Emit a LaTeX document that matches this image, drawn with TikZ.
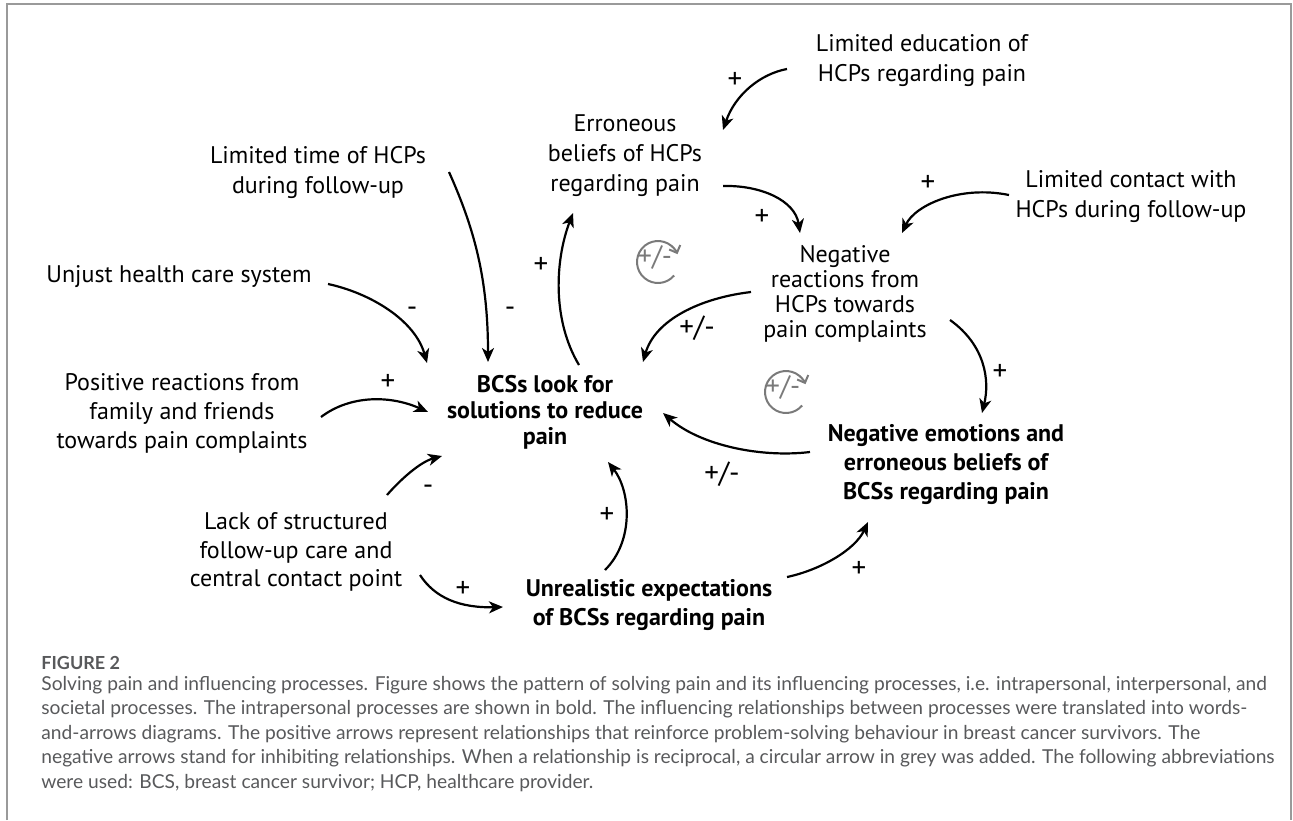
\documentclass[tikz,border=0pt]{standalone}
\usepackage{fontspec}
\setmainfont{PT Sans}
\newfontfamily\capfont{Lato}
\usetikzlibrary{arrows.meta}
\definecolor{framegray}{HTML}{9A9A9A}
\definecolor{capgray}{HTML}{58595B}
\definecolor{icongray}{HTML}{7A7A7A}
\begin{document}
\begin{tikzpicture}[x=0.5pt,y=-0.5pt,
  lbl/.style={align=center,inner sep=0pt,font=\fontsize{12}{15}\selectfont},
  lblb/.style={align=center,inner sep=0pt,font=\bfseries\fontsize{12}{14.5}\selectfont},
  sign/.style={inner sep=0pt,font=\fontsize{14.5}{15}\selectfont},
  conn/.style={line width=1.1pt,-{Stealth[length=7pt,width=6pt,inset=2pt]}},
  cyc/.style={draw=icongray,line width=1pt,-{Straight Barb[length=3pt,width=6pt]}},
  cyctext/.style={inner sep=0pt,text=icongray,font=\fontsize{14}{14}\selectfont},
  frameline/.style={draw=framegray,line width=1pt},
  captxt/.style={inner sep=0pt,anchor=west,align=left,text=capgray,font=\capfont\fontsize{9.6}{12.2}\selectfont}]
\useasboundingbox (0,0) rectangle (1293,820);
% frame
\draw[frameline] (7,820) -- (7,4) -- (1291,4) -- (1291,820);

% nodes
\node[lbl] (edu) at (922,61) {Limited education of\\HCPs regarding pain};
\node[lbl] (err) at (625,156) {Erroneous\\beliefs of HCPs\\regarding pain};
\node[lbl] (time) at (318,172) {Limited time of HCPs\\during follow-up};
\node[lbl] (contact) at (1131,197) {Limited contact with\\HCPs during follow-up};
\node[lbl] (unjust) at (179,277) {Unjust health care system};
\node[lbl,font=\fontsize{12}{12.6}\selectfont] (negreact) at (845,294) {Negative\\reactions from\\HCPs towards\\pain complaints};
\node[lbl,font=\fontsize{12}{14.5}\selectfont] (posreact) at (182,413) {Positive reactions from\\family and friends\\towards pain complaints};
\node[lblb,font=\bfseries\fontsize{12}{13}\selectfont] (bcs) at (545,412) {BCSs look for\\solutions to reduce\\pain};
\node[lblb] (negemo) at (946,464) {Negative emotions and\\erroneous beliefs of\\BCSs regarding pain};
\node[lbl,font=\fontsize{12}{14.3}\selectfont] (lack) at (296,552) {Lack of structured\\follow-up care and\\central contact point};
\node[lblb] (unreal) at (649,605) {Unrealistic expectations\\of BCSs regarding pain};

% connector end points
\coordinate (a1s) at (787,69);   \coordinate (a1e) at (723,130);
\coordinate (a2s) at (723,186);  \coordinate (a2e) at (800,233);
\coordinate (a3s) at (1009,195); \coordinate (a3e) at (902,233);
\coordinate (a4s) at (449,172);  \coordinate (a4e) at (488,362);
\coordinate (a5s) at (579,365);  \coordinate (a5e) at (573,213);
\coordinate (a6s) at (751,292);  \coordinate (a6e) at (643,362);
\coordinate (a7s) at (950,320);  \coordinate (a7e) at (982,413);
\coordinate (a8s) at (810,452);  \coordinate (a8e) at (663,413);
\coordinate (a9s) at (321,417);  \coordinate (a9e) at (428,412);
\coordinate (a10s) at (387,495); \coordinate (a10e) at (442,456);
\coordinate (a11s) at (420,575); \coordinate (a11e) at (503,607);
\coordinate (a12s) at (605,570); \coordinate (a12e) at (608,462);
\coordinate (a13s) at (787,577); \coordinate (a13e) at (868,522);
\coordinate (a14s) at (328,284); \coordinate (a14e) at (427,363);

% connectors
\draw[conn] (a1s) .. controls (760,74) and (735,95) .. (a1e);
\draw[conn] (a2s) .. controls (760,185) and (795,200) .. (a2e);
\draw[conn] (a3s) .. controls (960,185) and (915,205) .. (a3e);
\draw[conn] (a4s) .. controls (475,230) and (488,280) .. (a4e);
\draw[conn] (a5s) .. controls (552,320) and (555,260) .. (a5e);
\draw[conn] (a6s) .. controls (700,298) and (655,320) .. (a6e);
\draw[conn] (a7s) .. controls (985,345) and (990,380) .. (a7e);
\draw[conn] (a8s) .. controls (760,458) and (700,445) .. (a8e);
\draw[conn] (a9s) .. controls (350,395) and (390,395) .. (a9e);
\draw[conn] (a10s) .. controls (400,480) and (420,462) .. (a10e);
\draw[conn] (a11s) .. controls (435,598) and (460,608) .. (a11e);
\draw[conn] (a12s) .. controls (635,540) and (630,490) .. (a12e);
\draw[conn] (a13s) .. controls (820,570) and (855,550) .. (a13e);
\draw[conn] (a14s) .. controls (370,293) and (415,320) .. (a14e);

% signs
\node[sign] (s1) at (735,80) {+};
\node[sign] (s2) at (762,217) {+};
\node[sign] (s3) at (928,183) {+};
\node[sign] (s4) at (510,312) {-};
\node[sign] (s5) at (541,265) {+};
\node[sign] (s6) at (697,328) {+/-};
\node[sign] (s7) at (1000,372) {+};
\node[sign] (s8) at (722,474) {+/-};
\node[sign] (s9) at (388,382) {+};
\node[sign] (s10) at (428,490) {-};
\node[sign] (s11) at (463,589) {+};
\node[sign] (s12) at (607,515) {+};
\node[sign] (s13) at (859,569) {+};
\node[sign] (s14) at (412,312) {-};

% reciprocal icons
\node[cyctext] (ic1) at (655,257) {+/-};
\draw[cyc] (658,262) ++(-40:10.5pt) arc[start angle=-40,end angle=-338,radius=10.5pt];
\node[cyctext] (ic2) at (783,387) {+/-};
\draw[cyc] (786,392) ++(-40:10.5pt) arc[start angle=-40,end angle=-338,radius=10.5pt];

% caption
\node[captxt,font=\capfont\bfseries\fontsize{9}{10}\selectfont] (figlbl) at (41,663) {FIGURE 2};
\node[captxt,anchor=north west] (caption) at (41,676) {Solving pain and influencing processes. Figure shows the pattern of solving pain and its influencing processes, i.e. intrapersonal, interpersonal, and\\
societal processes. The intrapersonal processes are shown in bold. The influencing relationships between processes were translated into words-\\
and-arrows diagrams. The positive arrows represent relationships that reinforce problem-solving behaviour in breast cancer survivors. The\\
negative arrows stand for inhibiting relationships. When a relationship is reciprocal, a circular arrow in grey was added. The following abbreviations\\
were used: BCS, breast cancer survivor; HCP, healthcare provider.};
\end{tikzpicture}
\end{document}
